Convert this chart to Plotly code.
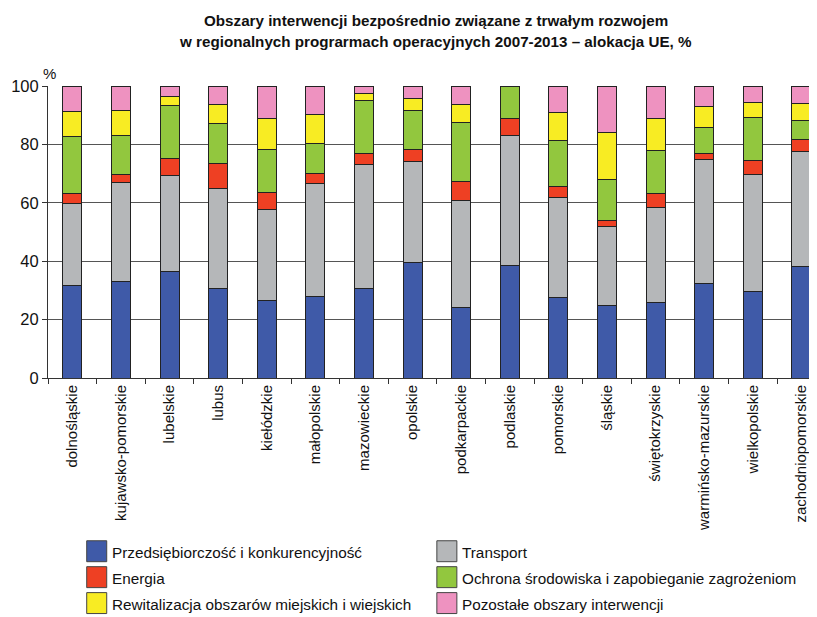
import plotly.graph_objects as go

regions = ["dolnośląskie", "kujawsko-pomorskie", "lubelskie", "lubus", "kiełódzkie",
           "małopolskie", "mazowieckie", "opolskie", "podkarpackie", "podlaskie",
           "pomorskie", "śląskie", "świętokrzyskie", "warmińsko-mazurskie",
           "wielkopolskie", "zachodniopomorskie"]

przedsiebiorczosc = [31.8, 33.2, 36.6, 30.5, 26.5, 27.8, 30.5, 39.4, 24.0, 38.6, 27.4, 24.9, 26.0, 32.2, 29.7, 38.2]
transport = [27.9, 33.6, 32.6, 34.3, 31.3, 38.7, 42.5, 34.7, 36.9, 44.5, 34.4, 27.1, 32.4, 42.6, 40.1, 39.2]
energia = [3.6, 2.9, 6.1, 8.6, 5.6, 3.6, 3.8, 4.2, 6.5, 5.8, 3.9, 2.1, 4.9, 2.1, 4.6, 4.2]
ochrona = [19.4, 13.5, 17.9, 13.8, 14.7, 10.2, 18.3, 13.2, 20.0, 11.1, 15.7, 13.9, 14.5, 9.0, 14.9, 6.5]
rewitalizacja = [8.5, 8.3, 3.3, 6.3, 10.9, 9.8, 2.4, 4.2, 6.35, 0.0, 9.4, 16.0, 11.2, 7.1, 5.1, 6.0]
pozostale = [8.75, 8.5, 3.5, 6.5, 11.0, 9.9, 2.5, 4.3, 6.25, 0.0, 9.2, 16.0, 11.0, 7.0, 5.6, 5.9]

series_names = ["Przedsiębiorczość i konkurencyjność", "Transport", "Energia",
                "Ochrona środowiska i zapobieganie zagrożeniom",
                "Rewitalizacja obszarów miejskich i wiejskich", "Pozostałe obszary interwencji"]
series_values = [przedsiebiorczosc, transport, energia, ochrona, rewitalizacja, pozostale]
colors = ["#3F5AA8", "#B5B7B9", "#EE4023", "#92C73E", "#F8EC23", "#EE92C0"]

y_ticks = [0, 20, 40, 60, 80, 100]

title_lines = ["Obszary interwencji bezpośrednio związane z trwałym rozwojem",
               "w regionalnych prograrmach operacyjnych 2007-2013 – alokacja UE, %"]

FONT = "Liberation Sans, Arial, sans-serif"

fig = go.Figure()
for name, vals, col in zip(series_names, series_values, colors):
    fig.add_trace(go.Bar(x=regions, y=vals, name=name,
                         marker=dict(color=col, line=dict(color="#222222", width=1)),
                         showlegend=False))

# page body has an 8px margin; work in reference pixels and shift by OFF
OFF = 8
W, H = 817 - OFF, 617 - OFF
ml, mr, mt, mb = 48.3 - OFF, 0, 85.5 - OFF, 617 - 378.3
pw = W - ml - mr
ph = H - mt - mb

def px_x(rx):
    return (rx - OFF - ml) / pw

def px_y(ry):
    return (H - mb - (ry - OFF)) / ph

shapes = []
annotations = []
legend_pos = [(87, 552), (437, 552), (87, 578), (437, 578), (87, 604), (437, 604)]
for (lx, ly), name, col in zip(legend_pos, series_names, colors):
    shapes.append(dict(type="rect", xref="paper", yref="paper",
                       x0=px_x(lx), x1=px_x(lx + 20), y0=px_y(ly + 10.5), y1=px_y(ly - 10.5),
                       fillcolor=col, line=dict(color="#444444", width=1)))
    annotations.append(dict(text=name, xref="paper", yref="paper", x=px_x(lx + 23), y=px_y(ly + 1),
                            xanchor="left", yanchor="middle", showarrow=False,
                            font=dict(size=15.3, color="#111111", family=FONT)))

for line, ty in zip(title_lines, [20, 41]):
    annotations.append(dict(text="<b>" + line + "</b>", xref="paper", yref="paper",
                            x=px_x(436), y=px_y(ty), xanchor="center", yanchor="middle",
                            showarrow=False, font=dict(size=15.2, color="#111111", family=FONT)))

annotations.append(dict(text="%", xref="paper", yref="paper", x=px_x(50), y=px_y(73),
                        xanchor="center", yanchor="middle", showarrow=False,
                        font=dict(size=15, color="#111111", family=FONT)))

fig.update_layout(
    width=W, height=H,
    margin=dict(l=ml, r=mr, t=mt, b=mb, autoexpand=False),
    barmode="stack", bargap=0.61,
    plot_bgcolor="white", paper_bgcolor="white",
    font=dict(family=FONT, color="#111111"),
    shapes=shapes, annotations=annotations,
)
fig.update_xaxes(range=[-0.5, 15.32], tickangle=-90, tickfont=dict(size=15, family=FONT),
                 ticks="outside", tickson="boundaries", ticklen=5, tickcolor="#333333",
                 showline=True, linecolor="#333333", linewidth=1, showgrid=False)
fig.update_yaxes(range=[0, 100], tickvals=y_ticks, tickfont=dict(size=16.5, family=FONT),
                 ticks="outside", ticklen=5, tickcolor="#333333",
                 showline=True, linecolor="#333333", linewidth=1,
                 showgrid=True, gridcolor="#555555", gridwidth=1, zeroline=False)

fig.write_html("out.html")
